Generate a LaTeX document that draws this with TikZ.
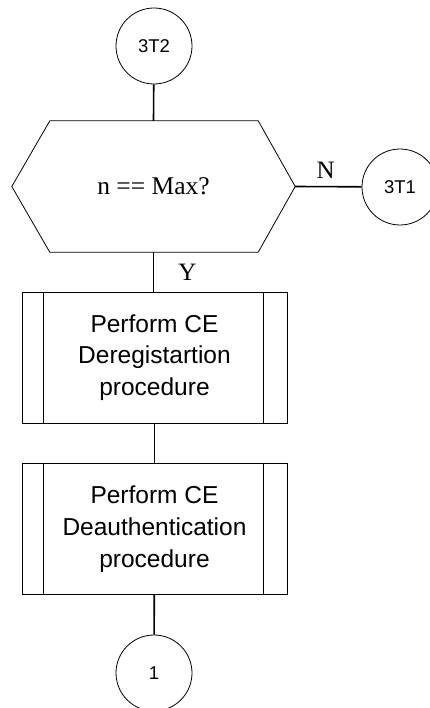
\documentclass[tikz,border=0pt]{standalone}
\usepackage{fontspec}
\setmainfont{Liberation Serif}
\setsansfont{Liberation Sans}
\usetikzlibrary{calc}
\begin{document}
\begin{tikzpicture}[x=1pt,y=-1pt,
  conn/.style={draw,line width=1.6pt},
  outline/.style={line width=0.8pt},
  connector/.style={draw,outline,circle,minimum size=76pt,inner sep=0pt,font=\sffamily\fontsize{18.5}{21}\selectfont},
  procbox/.style={draw,outline,rectangle,minimum width=265pt,minimum height=131pt,inner sep=0pt,align=center,font=\sffamily\fontsize{24.5}{31.7}\selectfont},
  lbl/.style={font=\fontsize{25}{28}\selectfont,inner sep=0pt}]
\useasboundingbox (0,0) rectangle (430,708);
\node[connector] (c3t2) at (154,46) {3T2};
\node[minimum width=283pt,minimum height=131pt,inner sep=0pt,font=\fontsize{25.5}{28}\selectfont] (hex) at (153.5,186.5) {n == Max?};
\draw[outline] (hex.west) -- ($(hex.north west)+(38,0)$) -- ($(hex.north east)+(-37,0)$) -- (hex.east) -- ($(hex.south east)+(-37,0)$) -- ($(hex.south west)+(38,0)$) -- cycle;
\node[connector] (c3t1) at (400,187) {3T1};
\node[procbox] (b1) at (154.5,357.5) {Perform CE\\Deregistartion\\procedure};
\node[procbox] (b2) at (154.5,529) {Perform CE\\Deauthentication\\procedure};
\foreach \b in {b1,b2}{
  \draw[outline] ($(\b.north west)+(22,0)$) -- ($(\b.south west)+(22,0)$);
  \draw[outline] ($(\b.north east)+(-24,0)$) -- ($(\b.south east)+(-24,0)$);
}
\node[connector] (c1) at (154,673) {1};
\draw[conn] (c3t2) -- (hex.north);
\draw[conn] (hex.east) -- node[lbl,above,pos=0.46,yshift=7pt] (nlab) {N} (c3t1);
\draw[conn] (hex.south) -- node[lbl,right,xshift=24pt] (ylab) {Y} (b1.north -| hex.south);
\draw[conn] (b1) -- (b2);
\draw[conn] (b2) -- (c1);
\end{tikzpicture}
\end{document}
